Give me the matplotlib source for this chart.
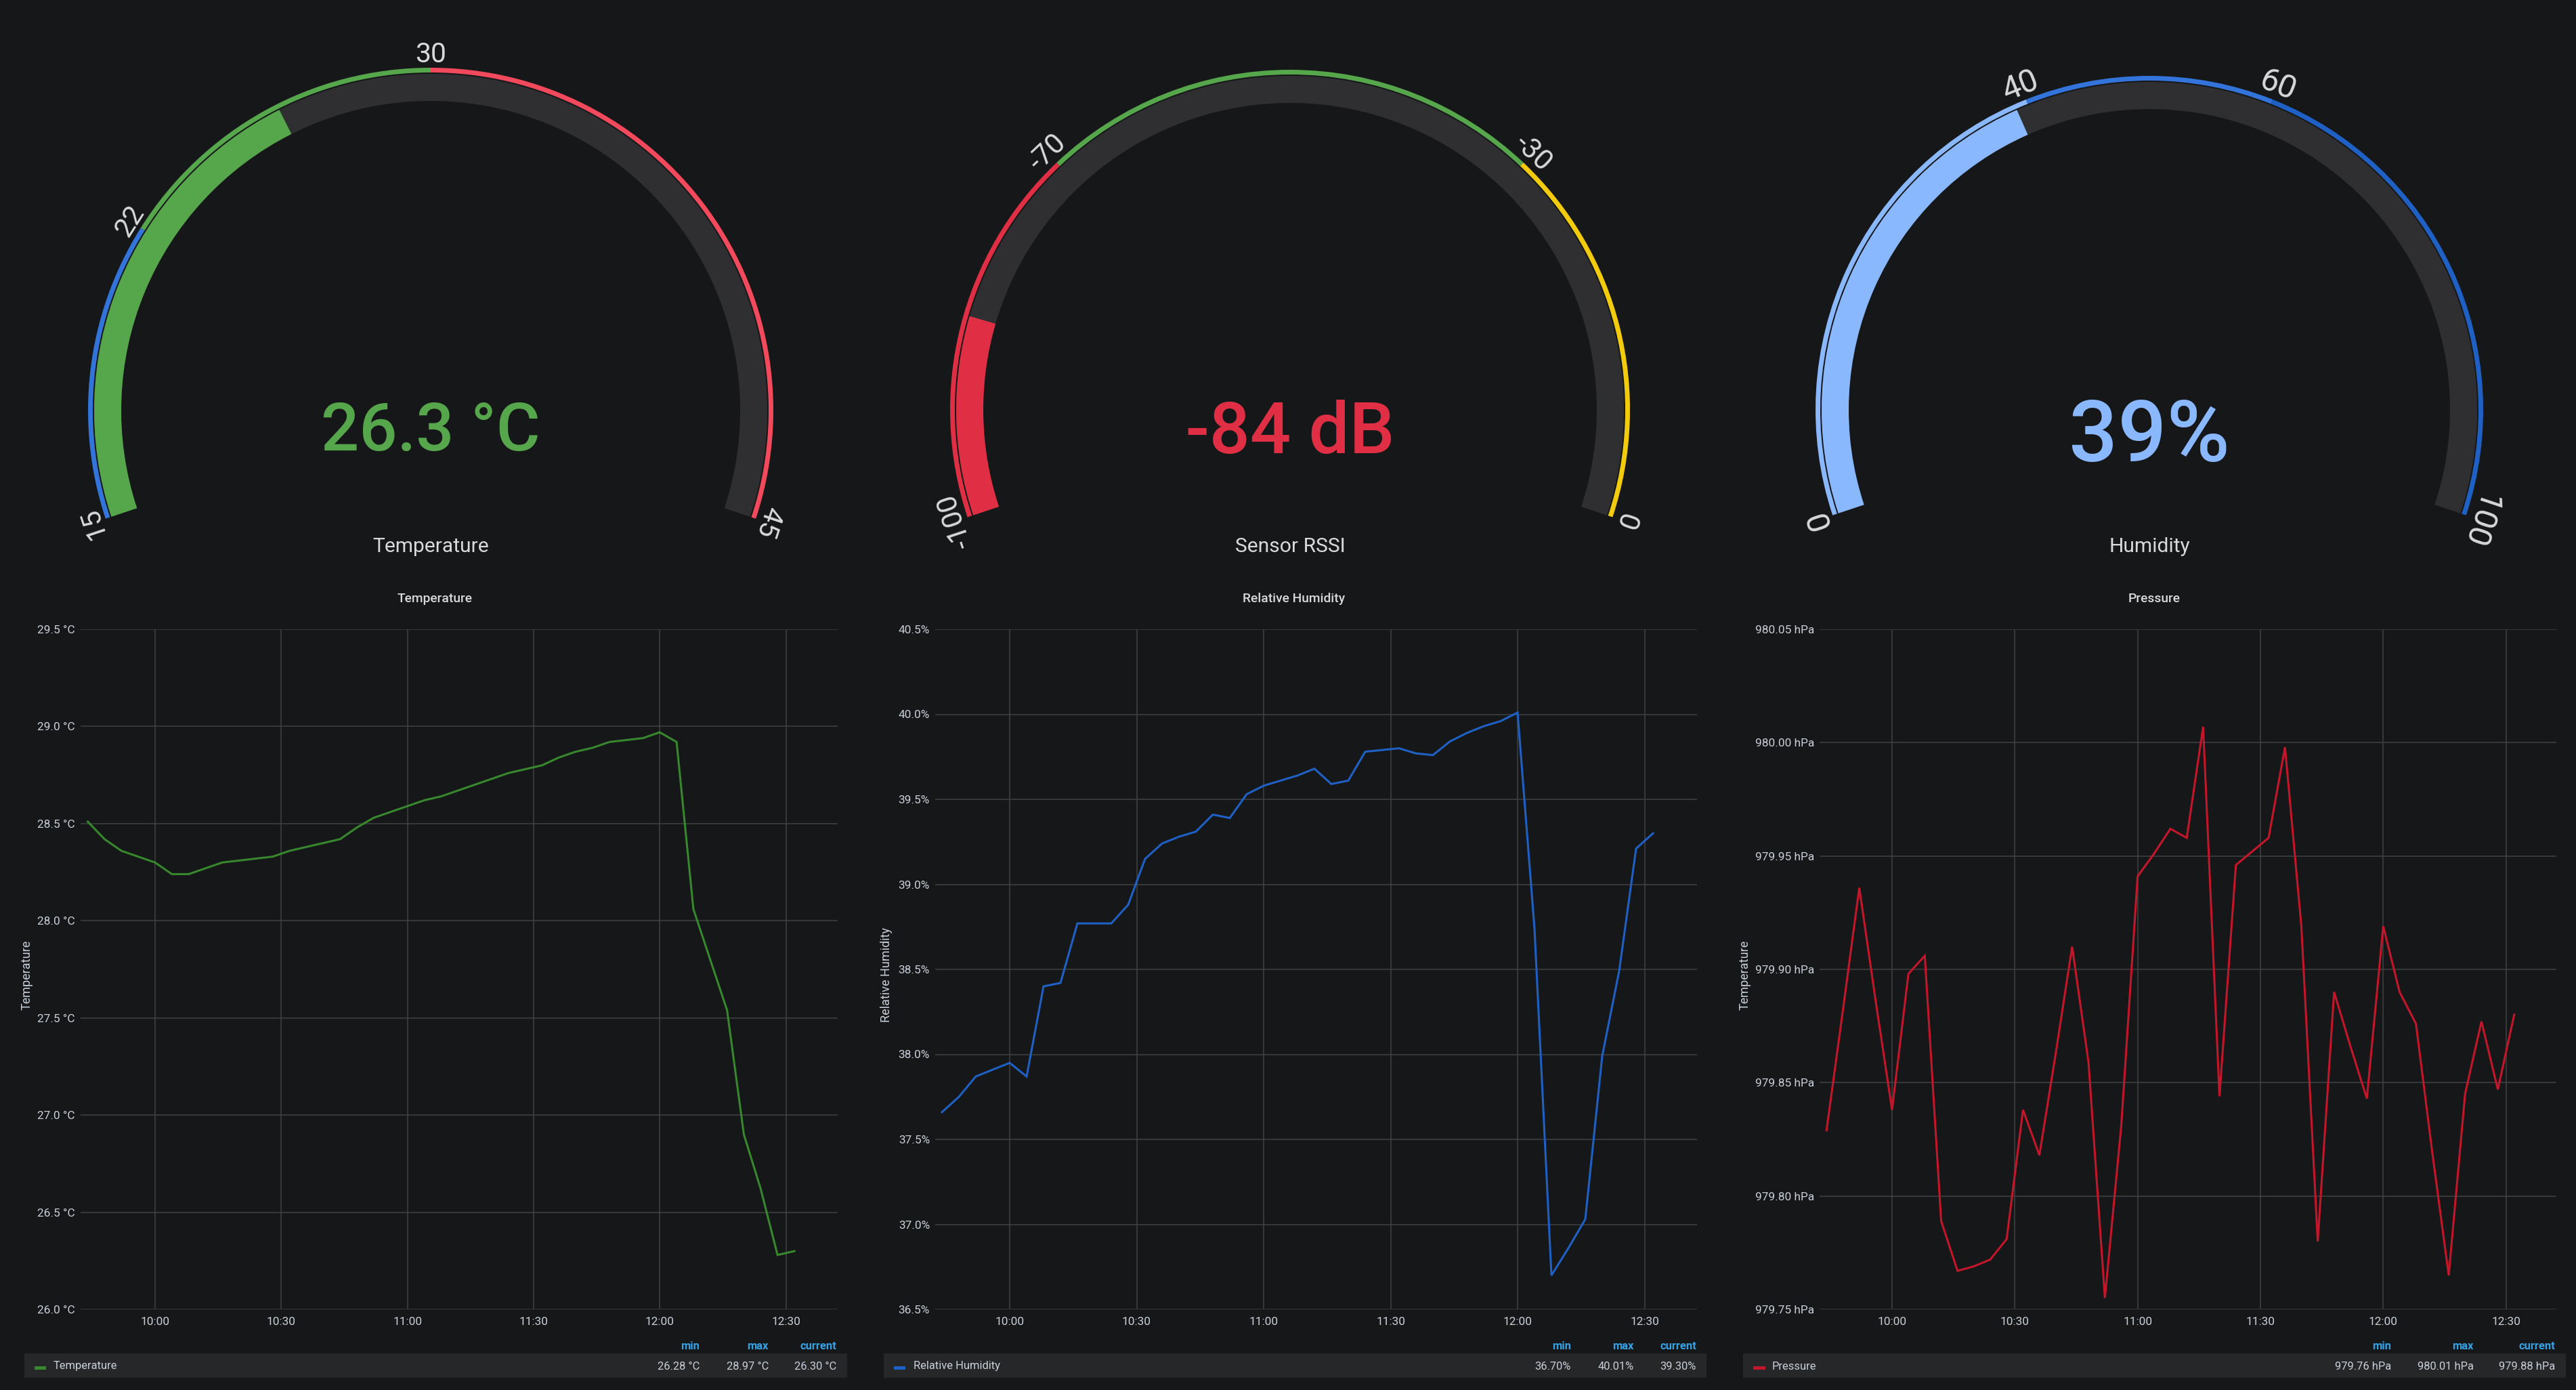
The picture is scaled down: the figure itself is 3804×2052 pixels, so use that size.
import numpy as np
import pandas as pd
import matplotlib
matplotlib.use('Agg')
import matplotlib.pyplot as plt
import matplotlib.dates as mdates
from matplotlib.patches import Wedge, Rectangle

plt.rcParams['font.family'] = ['Roboto', 'DejaVu Sans']

W, H = 3805, 2052
BG = '#161719'
BAND = '#2f2f32'
GRID = '#404144'
TEXT = '#d8d9da'
LABEL = '#c7d0d9'
STAT_HEAD = '#33a2e5'
LEGEND_BG = '#262729'

# gauges
temp_steps = [15, 22, 30, 45]
temp_step_colors = ['#3274d9', '#56a64b', '#f2495c']
temp_ticks = [15, 22, 30, 45]
temp_value = 26.3

rssi_steps = [-100, -70, -30, 0]
rssi_step_colors = ['#e02f44', '#56a64b', '#f2cc0c']
rssi_ticks = [-100, -70, -30, 0]
rssi_value = -84

hum_steps = [0, 40, 60, 100]
hum_step_colors = ['#8ab8ff', '#3274d9', '#1f60c4']
hum_ticks = [0, 40, 60, 100]
hum_value = 39

# time series, one point every 4 minutes
times = pd.date_range('2020-01-01 09:44', periods=43, freq='4min')

temperature = [28.51, 28.42, 28.36, 28.33, 28.30, 28.24, 28.24, 28.27, 28.30, 28.31, 28.32,
               28.33, 28.36, 28.38, 28.40, 28.42, 28.48, 28.53, 28.56, 28.59, 28.62, 28.64,
               28.67, 28.70, 28.73, 28.76, 28.78, 28.80, 28.84, 28.87, 28.89, 28.92, 28.93,
               28.94, 28.97, 28.92, 28.06, 27.80, 27.54, 26.90, 26.62, 26.28, 26.30]

humidity = [37.66, 37.75, 37.87, 37.91, 37.95, 37.87, 38.40, 38.42, 38.77, 38.77, 38.77,
            38.88, 39.15, 39.24, 39.28, 39.31, 39.41, 39.39, 39.53, 39.58, 39.61, 39.64,
            39.68, 39.59, 39.61, 39.78, 39.79, 39.80, 39.77, 39.76, 39.84, 39.89, 39.93,
            39.96, 40.01, 38.74, 36.70, 36.86, 37.03, 37.99, 38.49, 39.21, 39.30]

pressure = [979.829, 979.882, 979.936, 979.886, 979.838, 979.898, 979.906, 979.789, 979.767,
            979.769, 979.772, 979.781, 979.838, 979.818, 979.863, 979.910, 979.859, 979.755,
            979.831, 979.941, 979.951, 979.962, 979.958, 980.007, 979.844, 979.946, 979.952,
            979.958, 979.998, 979.919, 979.780, 979.890, 979.866, 979.843, 979.919, 979.890,
            979.876, 979.819, 979.765, 979.845, 979.877, 979.847, 979.880]

temp_yticks = [26.0, 26.5, 27.0, 27.5, 28.0, 28.5, 29.0, 29.5]
hum_yticks = [36.5, 37.0, 37.5, 38.0, 38.5, 39.0, 39.5, 40.0, 40.5]
pres_yticks = [979.75, 979.80, 979.85, 979.90, 979.95, 980.00, 980.05]

temp_stats = ['26.28 °C', '28.97 °C', '26.30 °C']
hum_stats = ['36.70%', '40.01%', '39.30%']
pres_stats = ['979.76 hPa', '980.01 hPa', '979.88 hPa']
stat_heads = ['min', 'max', 'current']


def px(size):
    # font size given in image pixels
    return size * 0.72


def flip(y):
    return H - y


def val_angle(v, vmin, vmax):
    # gauge sweeps from 198.4 deg down to -18.4 deg
    start, span = 198.4, 216.8
    return start - (v - vmin) / (vmax - vmin) * span


def draw_gauge(ax, cx, cy, r, steps, colors, ticks, value, value_text, value_color,
               value_size, value_base, tick_size, title):
    vmin, vmax = steps[0], steps[-1]
    cy_ = flip(cy)
    # background band and value band
    ax.add_patch(Wedge((cx, cy_), r - 9, val_angle(vmax, vmin, vmax), val_angle(vmin, vmin, vmax),
                       width=40, fc=BAND, ec='none'))
    ax.add_patch(Wedge((cx, cy_), r - 9, val_angle(value, vmin, vmax), val_angle(vmin, vmin, vmax),
                       width=40, fc=value_color, ec='none'))
    # threshold ring
    for lo, hi, c in zip(steps[:-1], steps[1:], colors):
        ax.add_patch(Wedge((cx, cy_), r, val_angle(hi, vmin, vmax), val_angle(lo, vmin, vmax),
                           width=7, fc=c, ec='none'))
    for t in ticks:
        a = val_angle(t, vmin, vmax)
        rad = np.deg2rad(a)
        tx = cx + (r + 8) * np.cos(rad)
        ty = cy_ + (r + 8) * np.sin(rad)
        ax.text(tx, ty, str(t), rotation=a - 90, rotation_mode='anchor', ha='center', va='baseline',
                color=TEXT, fontsize=px(tick_size))
    ax.text(cx, flip(value_base), value_text, color=value_color, fontsize=px(value_size),
            ha='center', va='baseline', fontweight='medium')
    ax.text(cx, flip(815), title, color=TEXT, fontsize=px(30), ha='center', va='baseline')


def draw_chart(ax0, left, right, values, color, yticks, ymin, ymax, fmt, title, title_x,
               ylabel, ylabel_x, start_min, stats, legend_box, swatch, text_x, stat_x, name):
    top, bottom = 929, 1933
    ax = fig.add_axes([left / W, 1 - bottom / H, (right - left) / W, (bottom - top) / H])
    ax.set_facecolor('none')
    ax.plot(times, values, color=color, lw=2.2, solid_joinstyle='miter')
    x0 = pd.Timestamp('2020-01-01 10:00') + pd.Timedelta(minutes=start_min)
    ax.set_xlim(x0, x0 + pd.Timedelta(minutes=180))
    ax.set_ylim(ymin, ymax)
    ax.set_yticks(yticks)
    ax.set_yticklabels([fmt % t for t in yticks])
    ax.xaxis.set_major_locator(mdates.MinuteLocator(byminute=[0, 30]))
    ax.xaxis.set_major_formatter(mdates.DateFormatter('%H:%M'))
    ax.tick_params(length=0, colors=LABEL, labelsize=px(17.3))
    ax.tick_params(axis='x', pad=px(11))
    ax.tick_params(axis='y', pad=px(8))
    ax.grid(True, color=GRID, lw=1.1)
    ax.set_axisbelow(True)
    for s in ax.spines.values():
        s.set_visible(False)

    ax0.text(title_x, flip(884), title, color=TEXT, fontsize=px(19.3), ha='center', va='center',
             fontweight='medium')
    ax0.text(ylabel_x, flip(1439), ylabel, color=LABEL, fontsize=px(18), rotation=90,
             ha='center', va='center')
    # legend row
    ax0.add_patch(Rectangle((legend_box[0], flip(2034)), legend_box[1] - legend_box[0], 36,
                            fc=LEGEND_BG, ec='none'))
    ax0.add_patch(Rectangle((swatch[0], flip(2022)), swatch[1] - swatch[0], 5, fc=color, ec='none'))
    ax0.text(text_x, flip(2017), name, color=LABEL, fontsize=px(16.5), ha='left', va='center')
    for head, stat, sx in zip(stat_heads, stats, stat_x):
        ax0.text(sx, flip(1987), head, color=STAT_HEAD, fontsize=px(16.5), ha='right', va='center',
                 fontweight='bold')
        ax0.text(sx, flip(2017), stat, color=LABEL, fontsize=px(16.5), ha='right', va='center')


fig = plt.figure(figsize=(W / 100, H / 100), dpi=100, facecolor=BG)
bg = fig.add_axes([0, 0, 1, 1])
bg.set_xlim(0, W)
bg.set_ylim(0, H)
bg.axis('off')

draw_gauge(bg, 636, 606, 506, temp_steps, temp_step_colors, temp_ticks, temp_value,
           '26.3 °C', '#56a64b', 99, 665, 41, 'Temperature')
draw_gauge(bg, 1905, 605, 502, rssi_steps, rssi_step_colors, rssi_ticks, rssi_value,
           '-84 dB', '#e02f44', 106, 669, 42, 'Sensor RSSI')
draw_gauge(bg, 3174, 605, 493, hum_steps, hum_step_colors, hum_ticks, hum_value,
           '39%', '#8ab8ff', 127, 681, 48, 'Humidity')

draw_chart(bg, 119, 1237, temperature, '#37872d', temp_yticks, 26.0, 29.5, '%.1f °C',
           'Temperature', 642, 'Temperature', 40, -17.7, temp_stats,
           (36, 1251), (51, 68), 79, (1033, 1135, 1235), 'Temperature')
draw_chart(bg, 1381, 2506, humidity, '#1f60c4', hum_yticks, 36.5, 40.5, '%.1f%%',
           'Relative Humidity', 1911, 'Relative Humidity', 1309, -17.6, hum_stats,
           (1305, 2520), (1320, 1337), 1349, (2320, 2413, 2505), 'Relative Humidity')
draw_chart(bg, 2687, 3775, pressure, '#c4162a', pres_yticks, 979.75, 980.05, '%.2f hPa',
           'Pressure', 3181, 'Temperature', 2577, -17.7, pres_stats,
           (2574, 3789), (2589, 2607), 2617, (3531, 3653, 3773), 'Pressure')

fig.savefig('out.png', dpi=100, facecolor=BG)
